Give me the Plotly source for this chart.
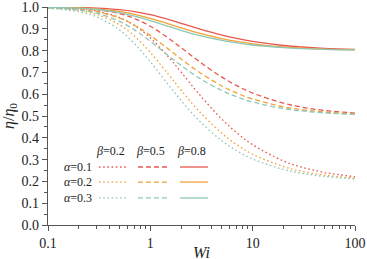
import plotly.graph_objects as go

# Weissenberg number samples
wi = [0.1, 0.2, 0.3, 0.5, 0.7, 1, 1.5, 2, 3, 5, 7, 10, 20, 30, 50, 100]

# eta/eta0, one list per (beta, alpha)
b02_a01 = [0.9978, 0.9913, 0.9810, 0.9517, 0.9157, 0.8586, 0.7717, 0.7012, 0.6001, 0.4854, 0.4226, 0.3682, 0.2938, 0.2656, 0.2412, 0.2216]
b02_a02 = [0.9959, 0.9841, 0.9661, 0.9187, 0.8661, 0.7914, 0.6914, 0.6181, 0.5214, 0.4204, 0.3682, 0.3247, 0.2676, 0.2466, 0.2289, 0.2149]
b02_a03 = [0.9943, 0.9783, 0.9545, 0.8946, 0.8322, 0.7487, 0.6438, 0.5709, 0.4786, 0.3862, 0.3402, 0.3026, 0.2545, 0.2372, 0.2228, 0.2117]

b05_a01 = [0.9986, 0.9946, 0.9881, 0.9698, 0.9473, 0.9116, 0.8573, 0.8133, 0.7501, 0.6784, 0.6391, 0.6051, 0.5587, 0.5410, 0.5258, 0.5135]
b05_a02 = [0.9975, 0.9901, 0.9788, 0.9492, 0.9163, 0.8697, 0.8071, 0.7613, 0.7009, 0.6378, 0.6052, 0.5780, 0.5423, 0.5291, 0.5181, 0.5093]
b05_a03 = [0.9965, 0.9865, 0.9716, 0.9342, 0.8951, 0.8430, 0.7774, 0.7318, 0.6741, 0.6164, 0.5877, 0.5641, 0.5341, 0.5233, 0.5143, 0.5073]

b08_a01 = [0.9994, 0.9978, 0.9952, 0.9879, 0.9789, 0.9646, 0.9429, 0.9253, 0.9000, 0.8713, 0.8556, 0.8420, 0.8235, 0.8164, 0.8103, 0.8054]
b08_a02 = [0.9990, 0.9960, 0.9915, 0.9797, 0.9665, 0.9479, 0.9228, 0.9045, 0.8804, 0.8551, 0.8421, 0.8312, 0.8169, 0.8116, 0.8072, 0.8037]
b08_a03 = [0.9986, 0.9946, 0.9886, 0.9737, 0.9580, 0.9372, 0.9110, 0.8927, 0.8696, 0.8466, 0.8351, 0.8256, 0.8136, 0.8093, 0.8057, 0.8029]

alpha_labels = ["0.1", "0.2", "0.3"]
beta_labels = ["0.2", "0.5", "0.8"]

COLORS = ["#E8574F", "#F0A236", "#8DC7B6"]
DOT = "1.6px,2.6px"
DASH = "5px,3px"
STYLES = [DOT, DASH, "solid"]
FONT = "Liberation Serif, Times New Roman, Tinos, DejaVu Serif, serif"

series = [
    [b02_a01, b02_a02, b02_a03],
    [b05_a01, b05_a02, b05_a03],
    [b08_a01, b08_a02, b08_a03],
]

fig = go.Figure()
for bi, group in enumerate(series):
    for ai, ys in enumerate(group):
        fig.add_trace(go.Scatter(
            x=wi, y=ys, mode="lines", line_shape="spline",
            line=dict(color=COLORS[ai], width=1.3, dash=STYLES[bi]),
            showlegend=False, hoverinfo="skip",
        ))

# Custom legend table
col_x = [(0.166, 0.257), (0.293, 0.388), (0.430, 0.521)]
row_y = [0.266, 0.197, 0.124]
header_y = 0.339
shapes = []
annotations = []
for bi, bl in enumerate(beta_labels):
    x0, x1 = col_x[bi]
    annotations.append(dict(
        x=(x0 + x1) / 2 - 0.008, y=header_y, xref="paper", yref="paper",
        xanchor="center", yanchor="middle",
        text="<i>β</i>=" + bl, showarrow=False,
        font=dict(family=FONT, size=12, color="#222"),
    ))
for ai, al in enumerate(alpha_labels):
    annotations.append(dict(
        x=0.150, y=row_y[ai], xref="paper", yref="paper",
        xanchor="right", yanchor="middle",
        text="<i>α</i>=" + al, showarrow=False,
        font=dict(family=FONT, size=12, color="#222"),
    ))
    for bi in range(3):
        x0, x1 = col_x[bi]
        shapes.append(dict(
            type="line", xref="paper", yref="paper",
            x0=x0, x1=x1, y0=row_y[ai], y1=row_y[ai],
            line=dict(color=COLORS[ai], width=1.3, dash=STYLES[bi]),
        ))

# x-axis title as annotation so it sits tight under the tick labels
annotations.append(dict(
    x=0.5, y=-0.125, xref="paper", yref="paper", xanchor="center", yanchor="middle",
    text="<i>Wi</i>", showarrow=False,
    font=dict(family=FONT, size=16, color="#222"),
))

fig.update_layout(
    width=367, height=259,
    margin=dict(l=48, r=12, t=7, b=34),
    paper_bgcolor="white", plot_bgcolor="white",
    font=dict(family=FONT, size=14, color="#222"),
    shapes=shapes, annotations=annotations,
    xaxis=dict(
        type="log", range=[-1, 2], automargin=False,
        tickvals=[0.1, 1, 10, 100], ticktext=["0.1", "1", "10", "100"],
        ticklabeloverflow="allow",
        showgrid=False, zeroline=False,
        showline=True, linecolor="#555", linewidth=1.3,
        ticks="outside", ticklen=5, tickwidth=1, tickcolor="#555",
        minor=dict(ticks="outside", ticklen=3, tickwidth=1, tickcolor="#555", dtick="D1", showgrid=False),
        tickfont=dict(family=FONT, size=14, color="#222"),
    ),
    yaxis=dict(
        range=[0, 1], dtick=0.1, tickformat=".1f", automargin=False,
        ticklabeloverflow="allow",
        showgrid=False, zeroline=False,
        showline=True, linecolor="#555", linewidth=1.3,
        ticks="outside", ticklen=5, tickwidth=1, tickcolor="#555",
        minor=dict(ticks="outside", ticklen=3, tickwidth=1, tickcolor="#555", dtick=0.05, showgrid=False),
        tickfont=dict(family=FONT, size=14, color="#222"),
        title=dict(text="<i>η</i>/<i>η</i><sub>0</sub>", font=dict(family=FONT, size=16, color="#222"), standoff=4),
    ),
)

fig.write_html(
    "out.html",
    config={"displayModeBar": False},
    post_script="document.body.style.margin='0';document.body.style.padding='0';document.body.style.overflow='hidden';",
)
